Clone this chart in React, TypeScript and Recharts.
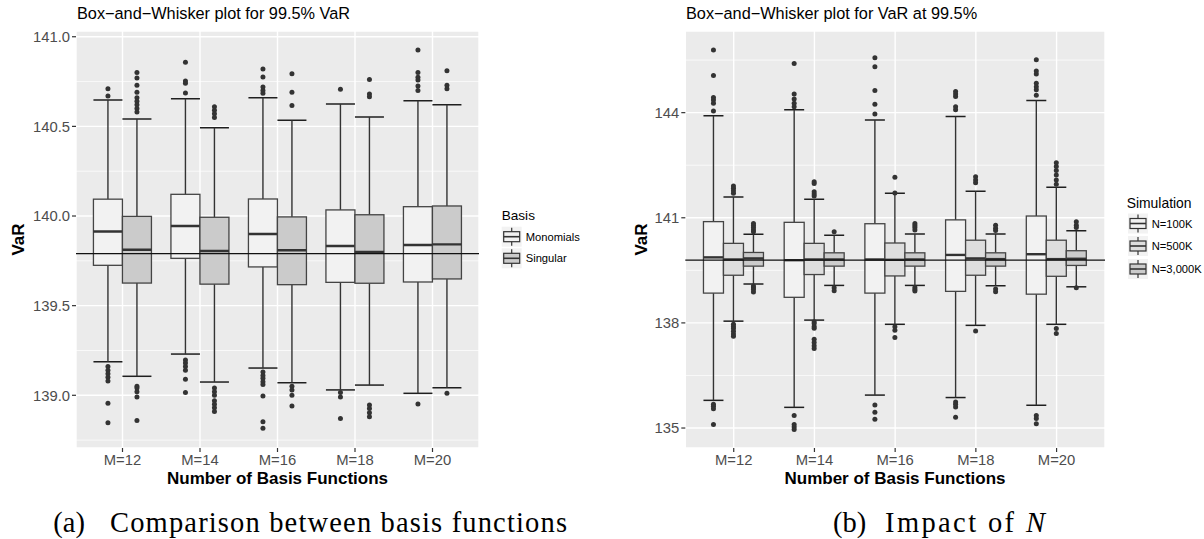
import React from "react";
import { ComposedChart, Bar, XAxis, YAxis, CartesianGrid, ReferenceLine } from "recharts";

const categories = ["M=12", "M=14", "M=16", "M=18", "M=20"];

// each box: [lower whisker, Q1, median, Q3, upper whisker]
const monomialsBox = [
  [139.187, 139.725, 139.914, 140.094, 140.647],
  [139.23, 139.764, 139.944, 140.121, 140.654],
  [139.152, 139.716, 139.9, 140.095, 140.66],
  [139.03, 139.63, 139.833, 140.034, 140.625],
  [139.011, 139.632, 139.838, 140.052, 140.643],
];
const singularBox = [
  [139.106, 139.626, 139.812, 139.998, 140.541],
  [139.074, 139.62, 139.805, 139.993, 140.493],
  [139.07, 139.617, 139.809, 139.995, 140.534],
  [139.057, 139.625, 139.8, 140.007, 140.552],
  [139.042, 139.649, 139.842, 140.056, 140.62],
];
const monomialsOut = [
  [140.71, 140.67, 139.16, 139.14, 139.12, 139.1, 139.08, 138.955, 138.847],
  [140.857, 140.753, 140.74, 140.686, 139.197, 139.18, 139.16, 139.14, 139.09, 139.015],
  [140.82, 140.775, 140.72, 140.7, 140.685, 139.13, 139.11, 139.095, 139.076, 139.06, 138.996, 138.853, 138.816],
  [140.707, 139.015, 138.99, 138.87],
  [140.926, 140.8, 140.774, 140.758, 140.725, 140.7, 138.951],
];
const singularOut = [
  [140.8, 140.77, 140.73, 140.69, 140.66, 140.64, 140.62, 140.6, 140.58, 139.05, 139.04, 139.02, 138.99, 138.86],
  [140.61, 140.59, 140.57, 140.55, 139.04, 139.02, 139.0, 138.97, 138.95, 138.93, 138.91],
  [140.794, 140.69, 140.617, 139.05, 139.03, 139.0, 138.94],
  [140.762, 140.68, 140.665, 138.946, 138.927, 138.903, 138.88],
  [140.81, 140.73, 140.71, 139.011],
];

const n100kBox = [
  [135.79, 138.85, 139.87, 140.89, 143.91],
  [135.59, 138.73, 139.79, 140.87, 144.08],
  [135.94, 138.85, 139.81, 140.83, 143.79],
  [135.87, 138.9, 139.94, 140.94, 143.89],
  [135.65, 138.82, 139.96, 141.05, 144.35],
];
const n500kBox = [
  [138.05, 139.36, 139.81, 140.27, 141.59],
  [138.08, 139.38, 139.81, 140.27, 141.53],
  [137.96, 139.34, 139.8, 140.28, 141.7],
  [137.93, 139.36, 139.84, 140.36, 141.76],
  [137.96, 139.33, 139.82, 140.36, 141.87],
];
const n3000kBox = [
  [139.11, 139.62, 139.84, 140.01, 140.53],
  [139.07, 139.62, 139.81, 140.0, 140.5],
  [139.07, 139.62, 139.81, 140.0, 140.54],
  [139.06, 139.62, 139.82, 140.0, 140.54],
  [139.03, 139.64, 139.83, 140.06, 140.63],
];
const n100kOut = [
  [145.79, 145.06, 144.43, 144.36, 144.27, 144.05, 135.68, 135.62, 135.55, 135.1],
  [145.4, 144.53, 144.39, 144.27, 144.17, 135.36, 135.1, 135.03, 134.96],
  [145.57, 145.31, 144.63, 144.24, 143.96, 135.66, 135.45, 135.25],
  [144.6, 144.53, 144.46, 144.17, 144.08, 135.74, 135.68, 135.6, 135.31],
  [145.51, 145.19, 145.1, 144.84, 144.74, 144.65, 144.5, 135.36, 135.27, 135.12],
];
const n500kOut = [
  [141.91, 141.84, 141.77, 141.7, 137.96, 137.9, 137.84, 137.76, 137.68, 137.62],
  [142.03, 141.98, 141.74, 141.68, 141.62, 138.03, 137.98, 137.9, 137.85, 137.53, 137.44, 137.35, 137.27],
  [142.16, 141.71, 137.89, 137.79, 137.58],
  [142.17, 142.08, 142.0, 137.77],
  [142.57, 142.46, 142.35, 142.22, 142.08, 141.96, 137.84, 137.7],
];
const n3000kOut = [
  [140.84, 140.78, 140.72, 140.66, 140.6, 139.05, 139.0, 138.95, 138.88],
  [140.6, 139.0, 138.92],
  [140.84, 140.78, 140.72, 140.65, 139.01, 138.95, 138.91],
  [140.79, 140.7, 140.64, 138.97, 138.89],
  [140.89, 140.79, 140.72, 139.0],
];

const trueVaR = 139.79;

const leftTicks = [139.0, 139.5, 140.0, 140.5, 141.0];
const leftMinor = [138.75, 139.25, 139.75, 140.25, 140.75];
const leftDomain = [138.706, 141.032];
const rightTicks = [135, 138, 141, 144];
const rightMinor = [136.5, 139.5, 142.5, 145.5];
const rightDomain = [134.43, 146.33];

const FONT = "'Liberation Sans', Arial, sans-serif";
const LIGHT = "#F2F2F2";
const MID = "#DEDEDE";
const DARK = "#CBCBCB";

// eslint-disable-next-line @typescript-eslint/no-explicit-any
function BoxShape(props: any) {
  const { x, y, width, height, stats, outliers, fill } = props;
  const [lo, q1, med, q3, hi] = stats;
  const top = Math.min(y, y + height);
  const bottom = Math.max(y, y + height);
  // bar spans [lo, hi] on the value scale; map the other stats along it
  const py = (v: number) => bottom - ((bottom - top) * (v - lo)) / (hi - lo);
  const cx = x + width / 2;
  return (
    <g>
      <line x1={x} x2={x + width} y1={py(hi)} y2={py(hi)} stroke="#1f1f1f" strokeWidth={1.5} />
      <line x1={x} x2={x + width} y1={py(lo)} y2={py(lo)} stroke="#1f1f1f" strokeWidth={1.5} />
      <line x1={cx} x2={cx} y1={py(hi)} y2={py(q3)} stroke="#333" strokeWidth={1.4} />
      <line x1={cx} x2={cx} y1={py(q1)} y2={py(lo)} stroke="#333" strokeWidth={1.4} />
      <rect x={x} y={py(q3)} width={width} height={py(q1) - py(q3)} fill={fill} stroke="#444" strokeWidth={1.3} />
      <line x1={x} x2={x + width} y1={py(med)} y2={py(med)} stroke="#333" strokeWidth={2.4} />
      {outliers.map((v: number, i: number) => (
        <circle key={i} cx={cx} cy={py(v)} r={2.5} fill="#333" />
      ))}
    </g>
  );
}

interface Series {
  name: string;
  box: number[][];
  out: number[][];
  fill: string;
}

interface PanelProps {
  width: number;
  left: number;
  right: number;
  domain: number[];
  ticks: number[];
  minor: number[];
  series: Series[];
  fmt: (v: number) => string;
}

function Panel({ width, left, right, domain, ticks, minor, series, fmt }: PanelProps) {
  const rows = categories.map((cat, i) => {
    const row: Record<string, unknown> = { cat };
    series.forEach((s) => {
      row[s.name] = [s.box[i][0], s.box[i][4]];
    });
    return row;
  });
  const plotW = width - left - right;
  const pad = (plotW * 0.1) / 5.2;
  return (
    <ComposedChart
      width={width}
      height={539}
      data={rows}
      margin={{ top: 31, right, bottom: 61, left: left - 60 }}
      barCategoryGap="12.5%"
      barGap={0}
    >
      <CartesianGrid fill="#EBEBEB" fillOpacity={1} stroke="#FFFFFF" strokeWidth={1.4} />
      <CartesianGrid vertical={false} horizontalValues={minor} stroke="#FFFFFF" strokeWidth={0.7} />
      <XAxis
        dataKey="cat"
        type="category"
        height={30}
        padding={{ left: pad, right: pad }}
        axisLine={false}
        tickLine={{ stroke: "#333", strokeWidth: 1.2 }}
        tickSize={4}
        tickMargin={2}
        tick={{ fontSize: 14.8, fill: "#4D4D4D", fontFamily: FONT }}
        interval={0}
      />
      <YAxis
        type="number"
        width={60}
        domain={domain}
        allowDataOverflow
        ticks={ticks}
        tickFormatter={fmt}
        axisLine={false}
        tickLine={{ stroke: "#333", strokeWidth: 1.2 }}
        tickSize={4}
        tickMargin={2}
        tick={{ fontSize: 14.8, fill: "#4D4D4D", fontFamily: FONT }}
      />
      {series.map((s) => (
        <Bar
          key={s.name}
          dataKey={s.name}
          fill={s.fill}
          isAnimationActive={false}
          // eslint-disable-next-line @typescript-eslint/no-explicit-any
          shape={(p: any) => <BoxShape {...p} stats={s.box[p.index]} outliers={s.out[p.index]} fill={s.fill} />}
        />
      ))}
      <ReferenceLine y={trueVaR} stroke="#111" strokeWidth={1.3} />
    </ComposedChart>
  );
}

function LegendKey({ x, y, fill }: { x: number; y: number; fill: string }) {
  return (
    <g>
      <rect x={x} y={y} width={20} height={20} fill={LIGHT} />
      <line x1={x + 10} x2={x + 10} y1={y + 1} y2={y + 19} stroke="#333" strokeWidth={1.2} />
      <rect x={x + 2} y={y + 5} width={16} height={10} fill={fill} stroke="#333" strokeWidth={1.2} />
      <line x1={x + 2} x2={x + 18} y1={y + 10} y2={y + 10} stroke="#333" strokeWidth={1.6} />
    </g>
  );
}

export default function App() {
  const leftSeries: Series[] = [
    { name: "Monomials", box: monomialsBox, out: monomialsOut, fill: LIGHT },
    { name: "Singular", box: singularBox, out: singularOut, fill: DARK },
  ];
  const rightSeries: Series[] = [
    { name: "N=100K", box: n100kBox, out: n100kOut, fill: LIGHT },
    { name: "N=500K", box: n500kBox, out: n500kOut, fill: MID },
    { name: "N=3,000K", box: n3000kBox, out: n3000kOut, fill: DARK },
  ];
  return (
    <div style={{ position: "absolute", left: 0, top: 0, width: 1204, height: 539, background: "#fff" }}>
      <div style={{ position: "absolute", left: 0, top: 0 }}>
        <Panel width={600} left={76} right={121} domain={leftDomain} ticks={leftTicks} minor={leftMinor}
          series={leftSeries} fmt={(v) => v.toFixed(1)} />
      </div>
      <div style={{ position: "absolute", left: 600, top: 0 }}>
        <Panel width={604} left={85.3} right={99} domain={rightDomain} ticks={rightTicks} minor={rightMinor}
          series={rightSeries} fmt={(v) => String(v)} />
      </div>
      <svg width={1204} height={539} style={{ position: "absolute", left: 0, top: 0, pointerEvents: "none" }}>
        <g fontFamily={FONT}>
          <text x={77} y={19.3} fontSize={16.3} fill="#000">Box−and−Whisker plot for 99.5% VaR</text>
          <text x={686} y={19.3} fontSize={16.3} fill="#000">Box−and−Whisker plot for VaR at 99.5%</text>

          <text transform="translate(24,239.5) rotate(-90)" textAnchor="middle" fontSize={17} fontWeight="bold">VaR</text>
          <text transform="translate(647,239.5) rotate(-90)" textAnchor="middle" fontSize={17} fontWeight="bold">VaR</text>
          <text x={277.5} y={484} textAnchor="middle" fontSize={17} fontWeight="bold">Number of Basis Functions</text>
          <text x={895} y={484} textAnchor="middle" fontSize={17} fontWeight="bold">Number of Basis Functions</text>

          <text x={501.7} y={220} fontSize={13.6}>Basis</text>
          <LegendKey x={501.7} y={226.7} fill={LIGHT} />
          <text x={525.7} y={240.7} fontSize={11.2}>Monomials</text>
          <LegendKey x={501.7} y={248.3} fill={DARK} />
          <text x={525.7} y={262.3} fontSize={11.2}>Singular</text>

          <text x={1126.7} y={208.3} fontSize={13.9}>Simulation</text>
          <LegendKey x={1128} y={213.5} fill={LIGHT} />
          <text x={1151.7} y={227.5} fontSize={11.2}>N=100K</text>
          <LegendKey x={1128} y={236} fill={MID} />
          <text x={1151.7} y={250} fontSize={11.2}>N=500K</text>
          <LegendKey x={1128} y={259} fill={DARK} />
          <text x={1151.7} y={273} fontSize={11.2}>N=3,000K</text>
        </g>
        <g fontFamily="'Liberation Serif', 'DejaVu Serif', serif" fontSize={28.5} fill="#000">
          <text x={53.3} y={531.7}>(a)</text>
          <text x={110} y={531.7} textLength={457} lengthAdjust="spacing">Comparison between basis functions</text>
          <text x={833} y={531.7}>(b)</text>
          <text x={885} y={531.7} textLength={160} lengthAdjust="spacing">
            Impact of <tspan fontStyle="italic">N</tspan>
          </text>
        </g>
      </svg>
    </div>
  );
}
